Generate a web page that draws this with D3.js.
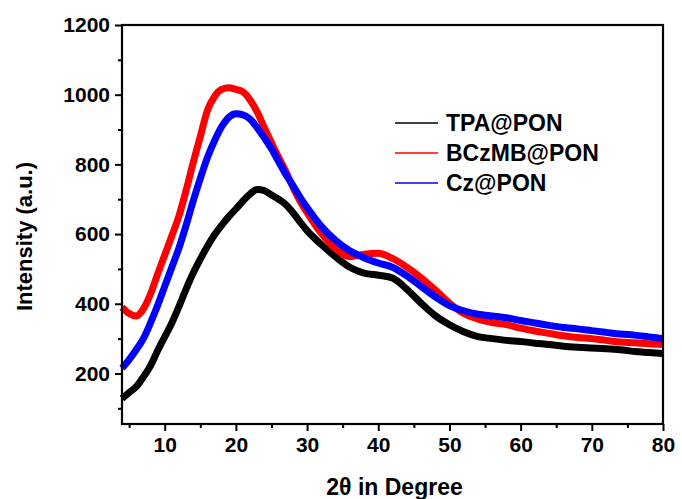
<!DOCTYPE html>
<html>
<head>
<meta charset="utf-8">
<script src="https://cdn.jsdelivr.net/npm/d3@7/dist/d3.min.js"></script>
<style>
  html, body { margin: 0; padding: 0; background: #fff; }
  svg { display: block; }
  text { font-family: "Liberation Sans", Arial, Helvetica, sans-serif; }
</style>
</head>
<body>
<svg id="chart" width="682" height="499"></svg>
<script>
// ---- data ----
const twoTheta = [4,5,6,7,8,9,10,11,12,13,14,15,16,17,18,19,20,21,22,23,24,25,26,27,28,29,30,32,34,36,38,40,42,44,46,48,50,52,54,56,58,60,62,64,66,68,70,72,74,76,78,80];
const tpaPON   = [128,145,162,190,222,265,305,345,392,442,488,528,565,598,625,650,672,695,715,728,725,712,700,685,662,635,610,570,535,505,488,482,474,442,402,366,340,320,306,300,295,292,287,283,278,275,273,271,268,263,260,257];
const bczmbPON = [390,372,365,385,428,485,540,595,652,725,805,880,955,995,1015,1020,1015,1008,985,950,905,862,820,780,735,695,662,602,558,535,542,545,530,505,475,440,402,372,356,346,340,330,322,315,308,303,300,295,290,288,285,283];
const czPON    = [215,240,268,300,345,395,450,505,560,625,695,760,820,868,908,935,945,942,930,905,876,845,808,772,740,706,676,622,582,552,532,517,505,480,450,420,395,380,370,365,360,352,345,338,332,328,323,318,313,310,305,300];
const seriesNames  = ["TPA@PON", "BCzMB@PON", "Cz@PON"];
const seriesColors = ["#000000", "#ff0000", "#0000ff"];
const xTicks = [10,20,30,40,50,60,70,80];
const xMinorTicks = [5,15,25,35,45,55,65,75];
const yTicks = [200,400,600,800,1000,1200];
const yMinorTicks = [100,300,500,700,900,1100];
const xTitle = "2θ in Degree";
const yTitle = "Intensity (a.u.)";

// ---- layout ----
const svg = d3.select("#chart");
const L = 122, R = 663, T = 25, B = 424;
const x = d3.scaleLinear().domain([4, 80]).range([L, R]);
const y = d3.scaleLinear().domain([55, 1200]).range([B, T]);

const seriesData = [tpaPON, bczmbPON, czPON];

// ---- lines ----
const line = d3.line()
  .x((d, i) => x(twoTheta[i]))
  .y(d => y(d))
  .curve(d3.curveMonotoneX);

const plot = svg.append("g");
seriesData.forEach((vals, k) => {
  plot.append("path")
    .datum(vals)
    .attr("d", line)
    .attr("fill", "none")
    .attr("stroke", seriesColors[k])
    .attr("stroke-width", 7)
    .attr("stroke-linejoin", "round")
    .attr("stroke-linecap", "butt");
});

// ---- axes ----
const fontTick = "bold 21px 'Liberation Sans', Arial, sans-serif";
const fmt = d3.format("d");

const xAxis = svg.append("g").attr("transform", `translate(0,${B})`)
  .call(d3.axisBottom(x).tickValues(xTicks).tickFormat(fmt).tickSize(7).tickPadding(6).tickSizeOuter(0));
const xMinor = svg.append("g").attr("transform", `translate(0,${B})`)
  .call(d3.axisBottom(x).tickValues(xMinorTicks).tickSize(4).tickFormat("").tickSizeOuter(0));
const yAxis = svg.append("g").attr("transform", `translate(${L},0)`)
  .call(d3.axisLeft(y).tickValues(yTicks).tickFormat(fmt).tickSize(7).tickPadding(5).tickSizeOuter(0));
const yMinor = svg.append("g").attr("transform", `translate(${L},0)`)
  .call(d3.axisLeft(y).tickValues(yMinorTicks).tickSize(4).tickFormat("").tickSizeOuter(0));

[xAxis, xMinor, yAxis, yMinor].forEach(g => {
  g.select(".domain").remove();
  g.selectAll(".tick line").attr("stroke", "#000").attr("stroke-width", 2);
  g.selectAll(".tick text").attr("fill", "#000").style("font", fontTick);
});

// frame
svg.append("rect")
  .attr("x", L).attr("y", T).attr("width", R - L).attr("height", B - T)
  .attr("fill", "none").attr("stroke", "#000").attr("stroke-width", 2.2);

// ---- titles ----
svg.append("text")
  .attr("x", (L + R) / 2 + 2).attr("y", 495)
  .attr("text-anchor", "middle")
  .style("font", "bold 23px 'Liberation Sans', Arial, sans-serif")
  .text(xTitle);

svg.append("text")
  .attr("transform", `translate(32,${(T + B) / 2 + 12}) rotate(-90)`)
  .attr("text-anchor", "middle")
  .style("font", "bold 22px 'Liberation Sans', Arial, sans-serif")
  .text(yTitle);

// ---- legend ----
const legend = svg.append("g");
seriesNames.forEach((name, k) => {
  const ly = 123 + k * 30;
  legend.append("line")
    .attr("x1", 395).attr("x2", 438).attr("y1", ly).attr("y2", ly)
    .attr("stroke", seriesColors[k]).attr("stroke-width", 1.5);
  legend.append("text")
    .attr("x", 446).attr("y", ly + 8)
    .style("font", "bold 23px 'Liberation Sans', Arial, sans-serif")
    .text(name);
});
</script>
</body>
</html>
